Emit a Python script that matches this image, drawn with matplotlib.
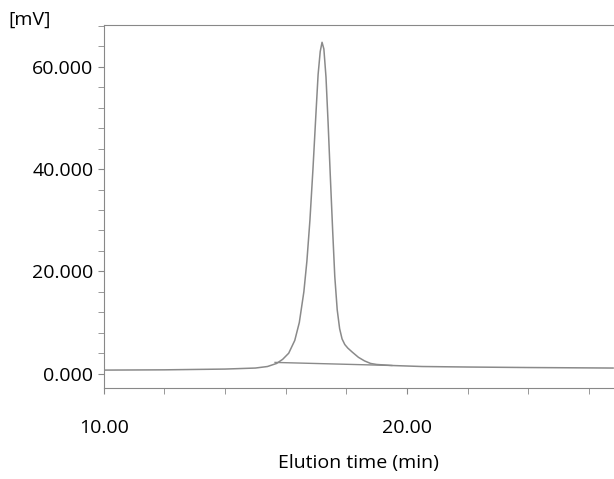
import matplotlib
matplotlib.use('Agg')
from matplotlib import pyplot as plt
from matplotlib.ticker import MultipleLocator, FormatStrFormatter

# chromatogram trace
t = [10.0, 12.0, 14.0, 15.0, 15.4, 15.7, 15.9, 16.1, 16.3, 16.45, 16.6, 16.7, 16.8, 16.9,
     17.0, 17.07, 17.14, 17.2, 17.26, 17.33, 17.4, 17.47, 17.55, 17.62, 17.7, 17.78,
     17.86, 17.95, 18.05, 18.2, 18.4, 18.6, 18.8, 19.0, 19.5, 20.5, 22.0, 24.0, 26.8]
mv = [0.7, 0.75, 0.9, 1.1, 1.4, 2.0, 2.8, 4.0, 6.5, 10.0, 16.0, 22.0, 30.0, 40.0,
      51.0, 58.5, 63.0, 64.8, 63.5, 58.0, 49.0, 39.0, 28.0, 19.0, 12.5, 8.8,
      6.8, 5.7, 5.0, 4.2, 3.2, 2.5, 2.0, 1.8, 1.6, 1.4, 1.3, 1.2, 1.1]
base_t = [15.65, 19.5]
base_mv = [2.2, 1.6]

plt.rcParams['font.family'] = ['Open Sans', 'DejaVu Sans']
fig = plt.figure(figsize=(6.14, 4.79), dpi=100)
ax = fig.add_axes([0.169, 0.19, 0.831, 0.758])
ax.plot(t, mv, color='#8a8a8a', lw=1.1)
ax.plot(base_t, base_mv, color='#8a8a8a', lw=1.0)
ax.set_xlim(10, 26.83)
ax.set_ylim(-2.8, 68.2)
ax.spines['right'].set_visible(False)
for s in ['left', 'bottom', 'top']:
    ax.spines[s].set_color('#888888')
ax.xaxis.set_major_locator(MultipleLocator(10))
ax.xaxis.set_minor_locator(MultipleLocator(2))
ax.yaxis.set_major_locator(MultipleLocator(20))
ax.yaxis.set_minor_locator(MultipleLocator(4))
ax.xaxis.set_major_formatter(FormatStrFormatter('%.2f'))
ax.yaxis.set_major_formatter(FormatStrFormatter('%.3f'))
ax.tick_params(which='both', direction='out', color='#888888', length=4, labelsize=14)
ax.tick_params(axis='x', which='major', pad=18)
ax.set_xlabel('Elution time (min)', fontsize=14, va='center')
ax.xaxis.set_label_coords(0.5, -0.207)
fig.text(0.013, 0.948, '[mV]', fontsize=14)
fig.savefig('out.png', dpi=100)
